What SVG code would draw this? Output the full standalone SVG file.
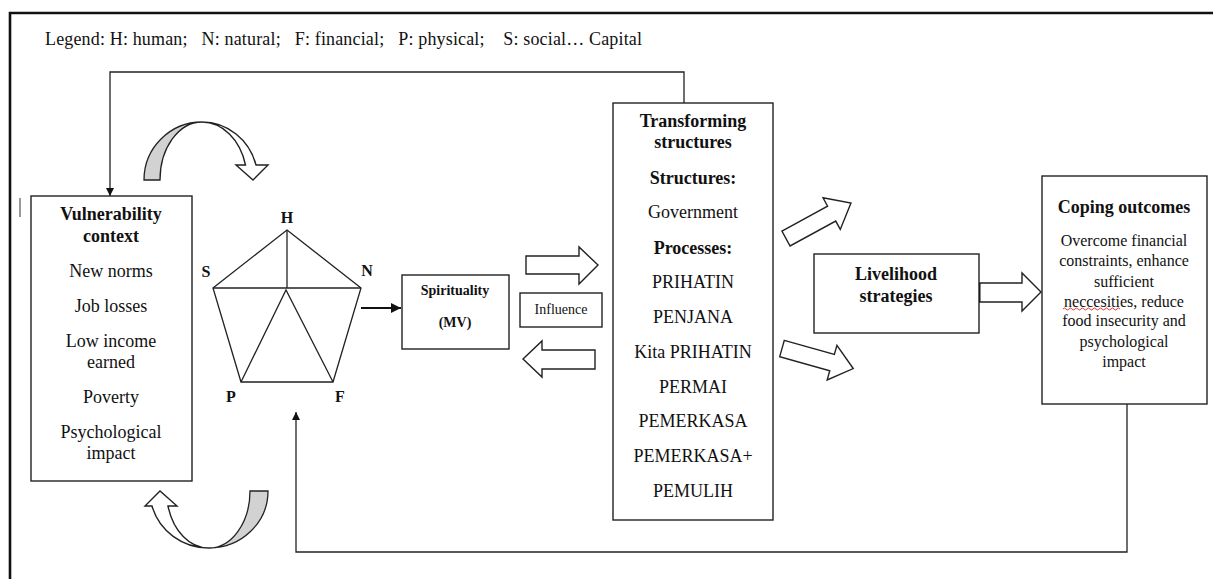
<svg xmlns="http://www.w3.org/2000/svg" width="1213" height="579" viewBox="0 0 1213 579">
<style>
  text { font-family: "Liberation Serif", "Times New Roman", serif; fill: #111; }
  .t { font-size: 18px; text-anchor: middle; }
  .tb { font-size: 18px; font-weight: bold; text-anchor: middle; }
  .c { font-size: 16px; text-anchor: middle; }
  .sm { font-size: 14px; text-anchor: middle; }
  .smb { font-size: 14px; font-weight: bold; text-anchor: middle; }
  .lab { font-size: 16px; font-weight: bold; text-anchor: middle; }
  .box { fill: #fff; stroke: #222; stroke-width: 1.4; }
  .line { fill: none; stroke: #222; stroke-width: 1.3; }
  .blk { fill: #fff; stroke: #222; stroke-width: 1.4; stroke-linejoin: miter; }
  .gray { fill: #d2d2d2; stroke: #222; stroke-width: 1.3; }
</style>
<defs>
  <marker id="ah" viewBox="0 0 10 10" refX="10" refY="5" markerWidth="8" markerHeight="8" markerUnits="userSpaceOnUse" orient="auto">
    <path d="M0,0 L10,5 L0,10 Z" fill="#111"/>
  </marker>
  <marker id="ah2" viewBox="0 0 10 10" refX="10" refY="5" markerWidth="10" markerHeight="10" markerUnits="userSpaceOnUse" orient="auto">
    <path d="M0,0 L10,5 L0,10 Z" fill="#111"/>
  </marker>
  <path id="blockArrow" d="M0,-8.5 L52,-8.5 L52,-18 L74,0 L52,18 L52,8.5 L0,8.5 Z"/>
</defs>
<rect width="1213" height="579" fill="#fff"/>

<!-- outer frame -->
<path d="M10,579 V13 H1213" fill="none" stroke="#111" stroke-width="2.6"/>
<line x1="20" y1="198" x2="20" y2="217" stroke="#555" stroke-width="1.2"/>

<text x="45" y="45" textLength="597" lengthAdjust="spacing" style="font-size:18px; white-space:pre">Legend: H: human;   N: natural;   F: financial;   P: physical;    S: social… Capital</text>

<g id="connectors">
  <path class="line" d="M684,103 V72 H110 V196" marker-end="url(#ah)"/>
  <path class="line" d="M1127,404 V552 H296 V412" marker-end="url(#ah)"/>
  <line x1="361" y1="308" x2="401" y2="308" stroke="#111" stroke-width="2" marker-end="url(#ah2)"/>
  <!-- block arrows -->
  <path class="blk" d="M526,256 H579 V247 L598,265 L579,284 V274 H526 Z"/>
  <path class="blk" d="M595,350 H542 V341 L523,359 L542,377 V369 H595 Z"/>
  <use href="#blockArrow" class="blk" transform="translate(786,238.5) rotate(-28.6)"/>
  <use href="#blockArrow" class="blk" transform="translate(782,348.5) rotate(15.7)"/>
  <path class="blk" d="M979,283 H1022 V273 L1041,292 L1022,311 V302 H979 Z"/>
  <line x1="979" y1="283" x2="979" y2="302" stroke="#111" stroke-width="3"/>
  <!-- curved arrows -->
  <path class="gray" d="M144,180 A58,58 0 0 1 202,122 A42,58 0 0 0 160,180 Z"/>
  <path class="blk" d="M202,122 A56,58 0 0 1 256,165 L268,165 L253,180 L236,165 L245.5,165 A45,58 0 0 0 202,122 Z"/>
  <path class="gray" d="M268,491 A59,57 0 0 1 209,548 A41,57 0 0 0 250,491 Z"/>
  <path class="blk" d="M209,548 A59,57 0 0 1 152,506 L145,506 L160,491 L177,506 L168,506 A42,57 0 0 0 209,548 Z"/>
</g>

<g id="vulnerability">
  <rect class="box" x="31" y="196" width="161" height="285"/>
  <text class="tb" x="111" y="220">Vulnerability</text>
  <text class="tb" x="111" y="242">context</text>
  <text class="t" x="111" y="277">New norms</text>
  <text class="t" x="111" y="312">Job losses</text>
  <text class="t" x="111" y="347">Low income</text>
  <text class="t" x="111" y="368">earned</text>
  <text class="t" x="111" y="403">Poverty</text>
  <text class="t" x="111" y="438">Psychological</text>
  <text class="t" x="111" y="459">impact</text>
</g>

<g id="pentagon">
  <polygon class="line" points="287,230 361,288 333,382 241,382 213,288"/>
  <line class="line" x1="287" y1="230" x2="287" y2="288"/>
  <line class="line" x1="213" y1="288" x2="361" y2="288"/>
  <polyline class="line" points="241,382 286,290 333,382"/>
  <text class="lab" x="287" y="223">H</text>
  <text class="lab" x="206" y="277">S</text>
  <text class="lab" x="367" y="276">N</text>
  <text class="lab" x="231" y="402">P</text>
  <text class="lab" x="340" y="402">F</text>
</g>

<g id="spirituality">
  <rect class="box" x="402" y="275" width="107" height="74"/>
  <text class="smb" x="455" y="295">Spirituality</text>
  <text class="smb" x="455" y="327">(MV)</text>
</g>

<g id="influence">
  <rect class="box" x="520" y="293" width="82" height="34"/>
  <text class="sm" x="561" y="314">Influence</text>
</g>

<g id="transforming">
  <rect class="box" x="613" y="103" width="160" height="417"/>
  <text class="tb" x="693" y="127">Transforming</text>
  <text class="tb" x="693" y="148">structures</text>
  <text class="tb" x="693" y="184">Structures:</text>
  <text class="t" x="693" y="218">Government</text>
  <text class="tb" x="693" y="254">Processes:</text>
  <text class="t" x="693" y="288">PRIHATIN</text>
  <text class="t" x="693" y="323">PENJANA</text>
  <text class="t" x="693" y="358">Kita PRIHATIN</text>
  <text class="t" x="693" y="393">PERMAI</text>
  <text class="t" x="693" y="427">PEMERKASA</text>
  <text class="t" x="693" y="462">PEMERKASA+</text>
  <text class="t" x="693" y="497">PEMULIH</text>
</g>

<g id="livelihood">
  <rect class="box" x="814" y="254" width="165" height="79"/>
  <text class="tb" x="896" y="280">Livelihood</text>
  <text class="tb" x="896" y="302">strategies</text>
</g>

<g id="coping">
  <rect class="box" x="1042" y="176" width="165" height="228"/>
  <text class="tb" x="1124" y="213">Coping outcomes</text>
  <text class="c" x="1124" y="246">Overcome financial</text>
  <text class="c" x="1124" y="266">constraints, enhance</text>
  <text class="c" x="1124" y="287">sufficient</text>
  <text class="c" x="1124" y="307">neccesities, reduce</text>
  <path d="M1063,309 q1.5,-2 3,0 t3,0 t3,0 t3,0 t3,0 t3,0 t3,0 t3,0 t3,0 t3,0 t3,0 t3,0 t3,0 t3,0 t3,0 t3,0 t3,0 t3,0 t3,0" fill="none" stroke="#d22" stroke-width="0.9"/>
  <text class="c" x="1124" y="326">food insecurity and</text>
  <text class="c" x="1124" y="347">psychological</text>
  <text class="c" x="1124" y="367">impact</text>
</g>
</svg>
